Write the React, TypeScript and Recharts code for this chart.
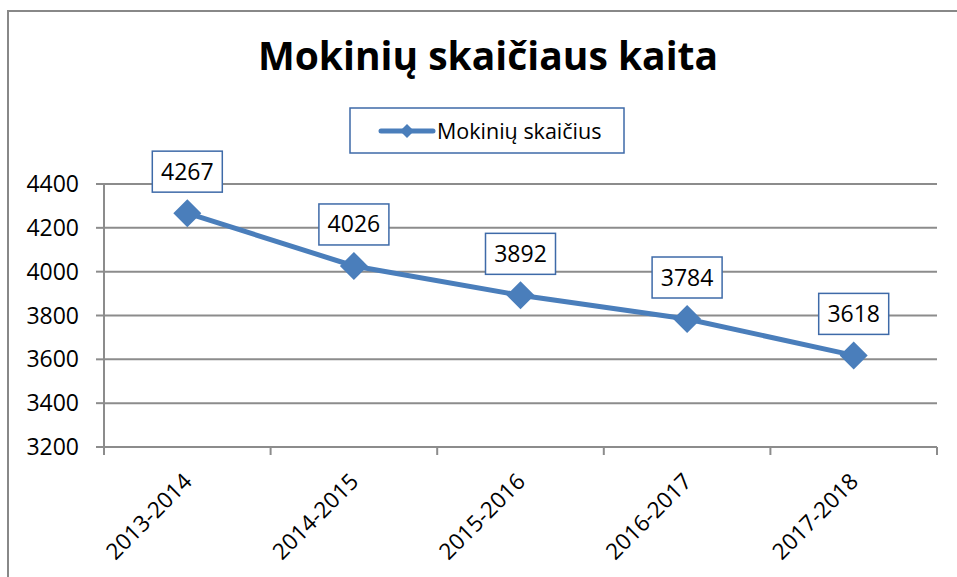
import React from 'react';
import { LineChart, Line, XAxis, YAxis, CartesianGrid, LabelList } from 'recharts';

const years = ['2013-2014', '2014-2015', '2015-2016', '2016-2017', '2017-2018'];
const students = [4267, 4026, 3892, 3784, 3618];
const yTicks = [3200, 3400, 3600, 3800, 4000, 4200, 4400];
const title = 'Mokinių skaičiaus kaita';
const seriesName = 'Mokinių skaičius';

const data = years.map((year, i) => ({ pos: i + 0.5, year, value: students[i] }));
const xTicks: number[] = [];
for (let i = 0; i <= years.length * 2; i++) xTicks.push(i / 2);

const FONT = '"Open Sans", sans-serif';
const LINE = '#4A7EBB';
const BOX = '#3E6AA8';
const GRID = '#8c8c8c';

const XTick = (props: any) => {
  const { x, y, payload } = props;
  const v = payload.value as number;
  if (Number.isInteger(v)) {
    return <line x1={x} y1={y} x2={x} y2={y + 8} stroke={GRID} strokeWidth={2} />;
  }
  const label = years[Math.floor(v)];
  const tx = x + 6;
  const ty = y + 36;
  return (
    <text x={tx} y={ty} transform={`rotate(-45 ${tx} ${ty})`} textAnchor="end" fontSize={22.5} fontFamily={FONT} fill="#000">
      {label}
    </text>
  );
};

const Diamond = (props: any) => {
  const { cx, cy } = props;
  const r = 14;
  return <path d={`M${cx},${cy - r}L${cx + r},${cy}L${cx},${cy + r}L${cx - r},${cy}Z`} fill={LINE} />;
};

const BoxLabel = (props: any) => {
  const { x, y, value } = props;
  return (
    <g>
      <rect x={x - 35} y={y - 62} width={70} height={41} fill="#fff" stroke={BOX} strokeWidth={1.5} />
      <text x={x} y={y - 33.5} textAnchor="middle" fontSize={23} fontFamily={FONT} fill="#000">
        {value}
      </text>
    </g>
  );
};

export default function App() {
  return (
    <div style={{ position: 'absolute', left: 0, top: 0, width: 957, height: 577, overflow: 'hidden', background: '#fff' }}>
      <div style={{ position: 'absolute', left: 7, top: 10, width: 1200, height: 1200, borderTop: '2px solid #888', borderLeft: '2px solid #888' }} />
      <div style={{ position: 'absolute', left: 0, top: 0 }}>
        <LineChart width={957} height={577} data={data} margin={{ top: 184, right: 20, bottom: 0, left: 44 }}>
          <CartesianGrid vertical={false} stroke={GRID} strokeWidth={2} />
          <XAxis
            dataKey="pos"
            type="number"
            domain={[0, years.length]}
            ticks={xTicks}
            interval={0}
            height={130}
            tickLine={false}
            tickSize={0}
            tickMargin={0}
            stroke={GRID}
            strokeWidth={2}
            tick={<XTick />}
          />
          <YAxis
            domain={[3200, 4400]}
            ticks={yTicks}
            interval={0}
            width={60}
            tickSize={8}
            tickMargin={17}
            stroke={GRID}
            strokeWidth={2}
            tick={{ fill: '#000', fontSize: 23, fontFamily: FONT }}
          />
          <Line
            dataKey="value"
            name={seriesName}
            stroke={LINE}
            strokeWidth={5}
            dot={<Diamond />}
            activeDot={false}
            isAnimationActive={false}
          >
            <LabelList dataKey="value" content={<BoxLabel />} />
          </Line>
        </LineChart>
      </div>
      <svg width={957} height={577} style={{ position: 'absolute', left: 0, top: 0, pointerEvents: 'none' }}>
        <text x={488} y={70} textAnchor="middle" fontSize={39} fontWeight="bold" fontFamily={FONT} fill="#000">
          {title}
        </text>
        <rect x={350} y={108} width={274} height={45} fill="#fff" stroke={BOX} strokeWidth={1.5} />
        <line x1={381} y1={131} x2={433} y2={131} stroke={LINE} strokeWidth={5} strokeLinecap="round" />
        <path d="M407,124L414,131L407,138L400,131Z" fill={LINE} />
        <text x={437} y={139} fontSize={21.5} fontFamily={FONT} fill="#000">
          {seriesName}
        </text>
      </svg>
    </div>
  );
}
